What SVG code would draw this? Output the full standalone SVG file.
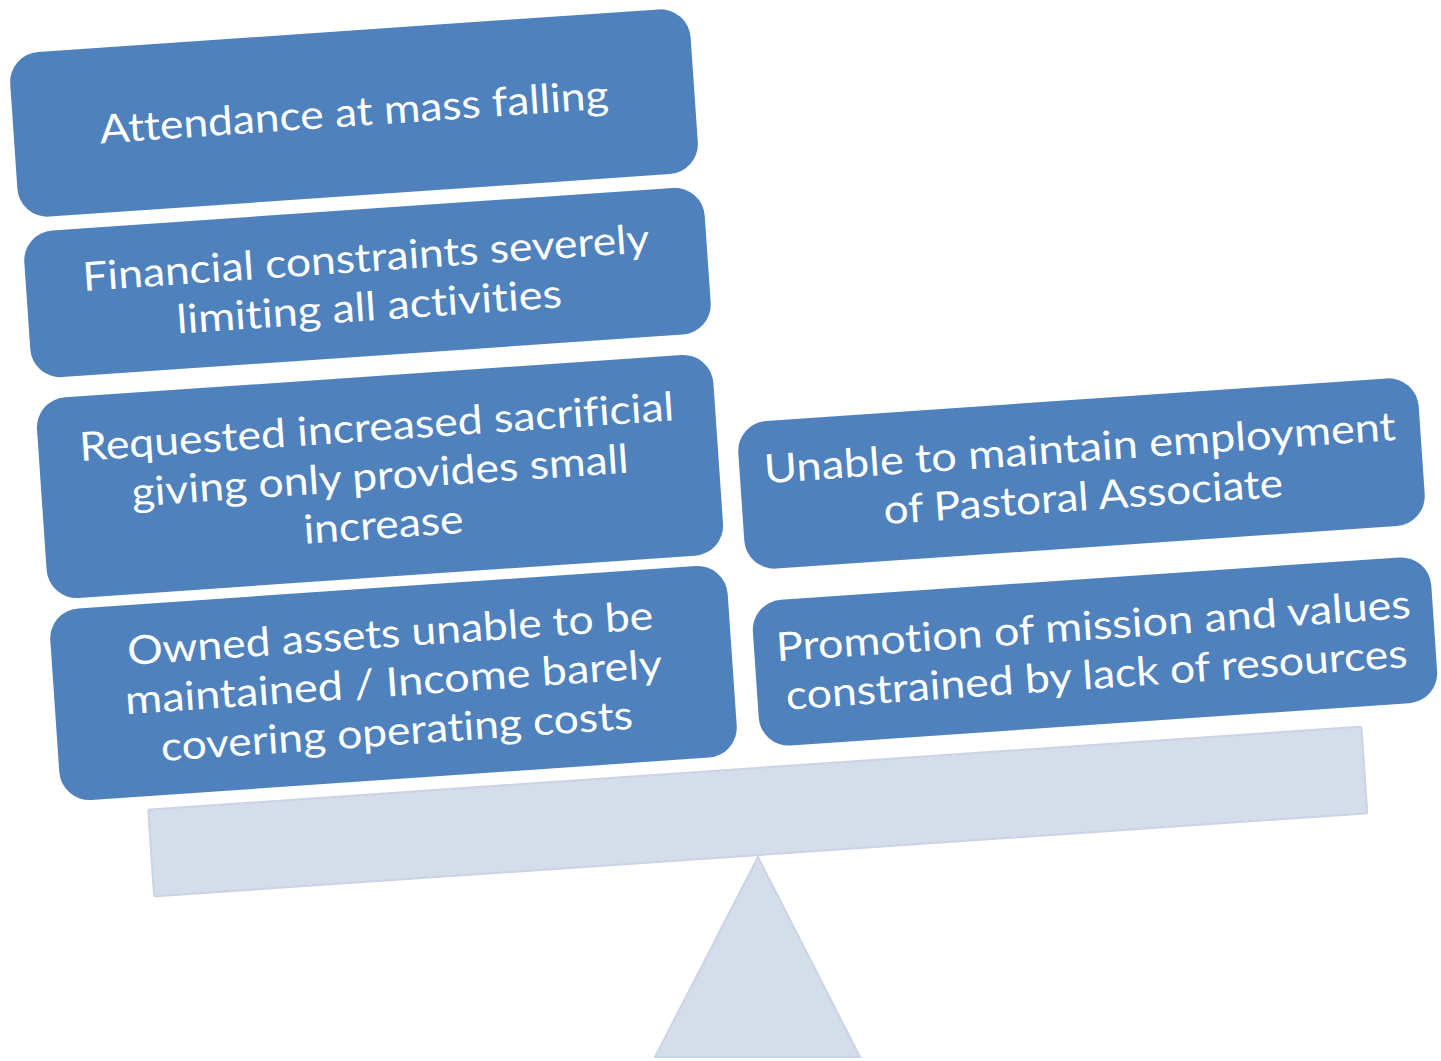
<svg xmlns="http://www.w3.org/2000/svg" width="1441" height="1061" viewBox="0 0 1441 1061">
<style>
.box{fill:#4f81bd;}
.lbl{fill:#ffffff;font-family:Lato,"Open Sans","Liberation Sans",sans-serif;font-size:40px;text-anchor:middle;font-variant-ligatures:none;}
.base{fill:#d5dcea;stroke:#cbd4e6;stroke-width:2;}
</style>
<rect width="1441" height="1061" fill="#ffffff"/>
<g id="fulcrum">
<polygon class="base" points="758,857 860,1057 655,1057"/>
</g>
<g id="beam" transform="translate(757.75,811.5) rotate(-3.92)">
<rect class="base" x="-608" y="-43.5" width="1216" height="87" rx="2"/>
</g>
<g id="box1" transform="translate(354,113) rotate(-3.92)">
<rect class="box" x="-341" y="-82.5" width="682" height="165" rx="30"/>
<text class="lbl" x="0" y="13" textLength="510" lengthAdjust="spacingAndGlyphs">Attendance at mass falling</text>
</g>
<g id="box2" transform="translate(367.5,282.5) rotate(-3.92)">
<rect class="box" x="-341" y="-73.5" width="682" height="147" rx="30"/>
<text class="lbl" x="0" y="-11" textLength="568" lengthAdjust="spacingAndGlyphs">Financial constraints severely</text>
<text class="lbl" x="0" y="38" textLength="386" lengthAdjust="spacingAndGlyphs">limiting all activities</text>
</g>
<g id="box3" transform="translate(380,476.5) rotate(-3.92)">
<rect class="box" x="-339" y="-100.5" width="678" height="201" rx="30"/>
<text class="lbl" x="0" y="-36" textLength="596" lengthAdjust="spacingAndGlyphs">Requested increased sacrificial</text>
<text class="lbl" x="0" y="13" textLength="498" lengthAdjust="spacingAndGlyphs">giving only provides small</text>
<text class="lbl" x="0" y="62" textLength="160" lengthAdjust="spacingAndGlyphs">increase</text>
</g>
<g id="box4" transform="translate(393.5,683) rotate(-3.92)">
<rect class="box" x="-339.5" y="-96" width="679" height="192" rx="30"/>
<text class="lbl" x="0" y="-36" textLength="527" lengthAdjust="spacingAndGlyphs">Owned assets unable to be</text>
<text class="lbl" x="0" y="13" textLength="538" lengthAdjust="spacingAndGlyphs">maintained / Income barely</text>
<text class="lbl" x="0" y="62" textLength="473" lengthAdjust="spacingAndGlyphs">covering operating costs</text>
</g>
<g id="box5" transform="translate(1081.5,473.5) rotate(-3.92)">
<rect class="box" x="-341" y="-74" width="682" height="148" rx="30"/>
<text class="lbl" x="0" y="-12" textLength="633" lengthAdjust="spacingAndGlyphs">Unable to maintain employment</text>
<text class="lbl" x="0" y="37" textLength="400" lengthAdjust="spacingAndGlyphs">of Pastoral Associate</text>
</g>
<g id="box6" transform="translate(1095,651.5) rotate(-3.92)">
<rect class="box" x="-340" y="-73" width="680" height="146" rx="30"/>
<text class="lbl" x="0" y="-12" textLength="636" lengthAdjust="spacingAndGlyphs">Promotion of mission and values</text>
<text class="lbl" x="0" y="37" textLength="623" lengthAdjust="spacingAndGlyphs">constrained by lack of resources</text>
</g>
<g id="connectors"></g>
</svg>
